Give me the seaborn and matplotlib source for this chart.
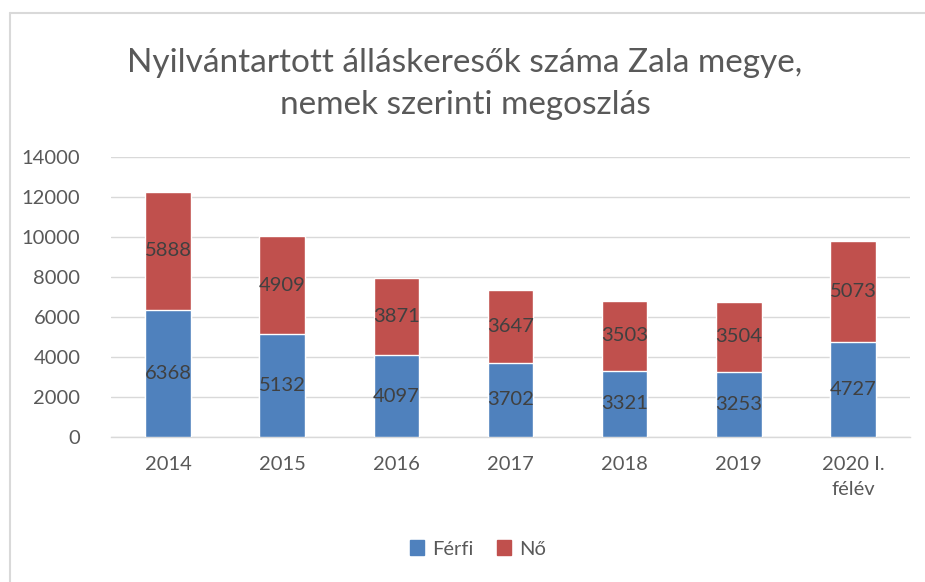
import matplotlib
matplotlib.use("Agg")
import matplotlib.pyplot as plt
import seaborn as sns
import pandas as pd
from matplotlib.patches import Patch
from matplotlib.lines import Line2D

categories = ["2014", "2015", "2016", "2017", "2018", "2019", "2020 I.\nfélév"]
ferfi = [6368, 5132, 4097, 3702, 3321, 3253, 4727]
no = [5888, 4909, 3871, 3647, 3503, 3504, 5073]
series_names = ["Férfi", "Nő"]
title = "Nyilvántartott álláskeresők száma Zala megye,\nnemek szerinti megoszlás"

sns.set_theme(style="white")
plt.rcParams['font.family'] = ['Lato', 'DejaVu Sans']

blue = "#4F81BD"
red = "#C0504D"
txt = "#595959"

df = pd.DataFrame({"cat": categories, "Férfi": ferfi, "Nő": no})
df["total"] = df["Férfi"] + df["Nő"]

fig = plt.figure(figsize=(9.25, 5.82), dpi=100)
ax = fig.add_axes([111/925, 1-437/582, (910-111)/925, (437-157)/582])

sns.barplot(data=df, x="cat", y="total", color=red, width=0.4, ax=ax,
            saturation=1, zorder=2)
sns.barplot(data=df, x="cat", y="Férfi", color=blue, width=0.4, ax=ax,
            saturation=1, zorder=3)

for i in range(len(categories)):
    ax.text(i, ferfi[i] / 2, str(ferfi[i]), ha="center", va="center",
            fontsize=14.5, color="#404040", zorder=5)
    ax.text(i, ferfi[i] + no[i] / 2, str(no[i]), ha="center", va="center",
            fontsize=14.5, color="#404040", zorder=5)

ax.set_ylim(0, 14000)
ax.set_xlim(-0.5, len(categories) - 0.5)
ax.set_yticks(range(0, 14001, 2000))
ax.yaxis.grid(True, color="#D9D9D9", linewidth=1, zorder=0)
ax.set_axisbelow(True)
for s in ["top", "right", "left"]:
    ax.spines[s].set_visible(False)
ax.spines["bottom"].set_color("#D9D9D9")
ax.spines["bottom"].set_linewidth(1)
ax.tick_params(axis="both", length=0, labelsize=14.5, labelcolor=txt)
ax.tick_params(axis="y", pad=22)
ax.tick_params(axis="x", pad=14)
for lbl in ax.get_xticklabels():
    lbl.set_linespacing(1.55)
ax.set_xlabel("")
ax.set_ylabel("")
if ax.get_legend() is not None:
    ax.get_legend().remove()

fig.text(465/925, 1-84/582, title, ha="center", va="center", fontsize=24,
         color=txt, linespacing=1.5)

handles = [Patch(color=blue, label=series_names[0]), Patch(color=red, label=series_names[1])]
fig.legend(handles=handles, loc="center", bbox_to_anchor=(478/925, 1-549/582), ncol=2,
           frameon=False, fontsize=14.5, labelcolor=txt, handlelength=0.7, handleheight=0.7,
           handletextpad=0.4, columnspacing=1.2)

# outer chart frame (top and left edges visible in the crop)
fx = 9.5/925
fy = 1 - 13/582
fig.lines.append(Line2D([fx, 1], [fy, fy], transform=fig.transFigure,
                        color="#D9D9D9", linewidth=1.5))
fig.lines.append(Line2D([fx, fx], [0, fy], transform=fig.transFigure,
                        color="#D9D9D9", linewidth=1.5))

fig.savefig("out.png", dpi=100)
